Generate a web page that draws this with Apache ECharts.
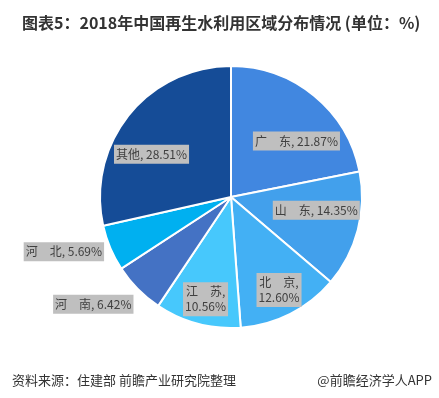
<!DOCTYPE html>
<html><head><meta charset="utf-8">
<script src="https://cdn.jsdelivr.net/npm/echarts@6/dist/echarts.min.js"></script>
<style>html,body{margin:0;padding:0;background:#fff}#c{width:439px;height:398px}</style>
</head><body><div id="c"></div>
<script>
const names = ['广　东', '山　东', '北　京', '江　苏', '河　南', '河　北', '其他'];
const values = [21.87, 14.35, 12.60, 10.56, 6.42, 5.69, 28.51];
const colors = ['#4187e0', '#42a0ec', '#43b0f4', '#47c8fc', '#4472c4', '#00b0f0', '#154c97'];
const twoLine = [false, false, true, true, false, false, false];
const offsets = [[22, -3], [19, -4], [17, 32], [-8, 36], [-89, 59], [-104, 28], [-26, 0]];

const chart = echarts.init(document.getElementById('c'));
chart.setOption({
  animation: false,
  title: [{
    text: '图表5：2018年中国再生水利用区域分布情况 (单位：%)',
    left: 17, top: 10,
    textStyle: {fontSize: 16, fontWeight: 'bold', color: '#333', fontFamily: 'Noto Sans CJK SC'}
  }, {
    text: '资料来源：住建部 前瞻产业研究院整理',
    left: 7, top: 369,
    textStyle: {fontSize: 13, fontWeight: 'normal', color: '#333', fontFamily: 'Noto Sans CJK SC'}
  }, {
    text: '@前瞻经济学人APP',
    right: 2, top: 369,
    textStyle: {fontSize: 13, fontWeight: 'normal', color: '#333', fontFamily: 'Noto Sans CJK SC'}
  }],
  series: [{
    type: 'pie',
    center: [231, 197],
    radius: [0, 131],
    startAngle: 90,
    clockwise: true,
    data: names.map((n, i) => ({name: n, value: values[i], itemStyle: {color: colors[i]}})),
    itemStyle: {borderColor: '#fff', borderWidth: 2},
    label: {
      show: true,
      position: 'inside',
      formatter: p => p.name + ',' + (twoLine[p.dataIndex] ? '\n' : ' ') + p.value.toFixed(2) + '%',
      backgroundColor: '#bfbfbf',
      color: '#404040',
      fontSize: 12,
      lineHeight: 15,
      padding: [2, 2],
      fontFamily: 'Noto Sans CJK SC',
      align: 'center'
    },
    labelLine: {show: false},
    labelLayout: p => ({dx: offsets[p.dataIndex][0], dy: offsets[p.dataIndex][1]}),
    emphasis: {disabled: true}
  }]
});
</script></body></html>
